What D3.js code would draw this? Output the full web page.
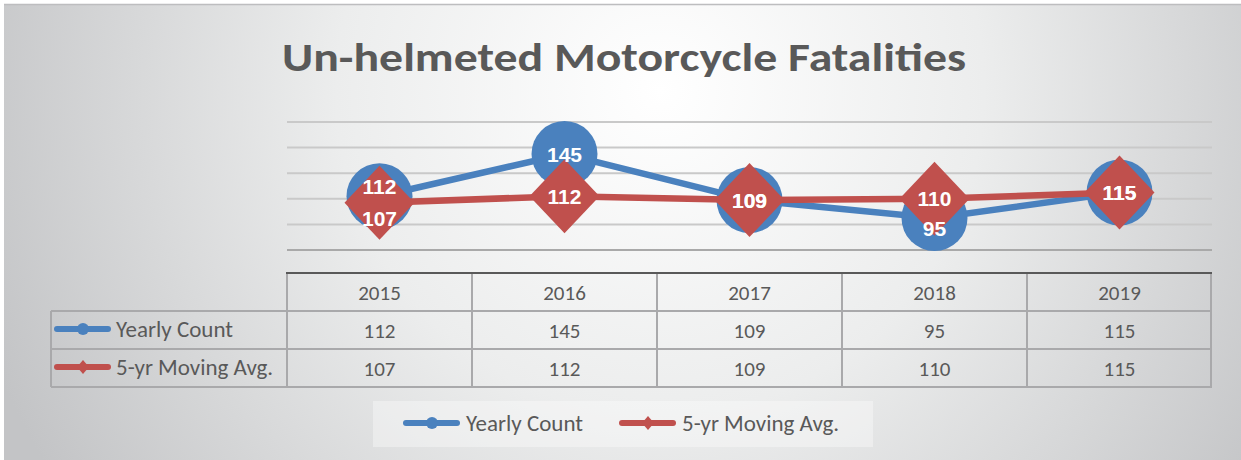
<!DOCTYPE html>
<html><head><meta charset="utf-8">
<script src="https://cdn.jsdelivr.net/npm/d3@7"></script>
<style>body{margin:0;background:#fff}svg{display:block}</style>
</head><body>
<script>
const years = ["2015","2016","2017","2018","2019"];
const yearlyCount = [112,145,109,95,115];
const movingAvg = [107,112,109,110,115];
const seriesNames = ["Yearly Count","5-yr Moving Avg."];
const gridTicks = [70,90,110,130,150,170];
const yearlyLabelDy = [-10,0,0,10,0];
const avgLabelDy = [16,0,0,0,0];

const W=1241,H=460;
const svg=d3.select("body").append("svg").attr("width",W).attr("height",H);
const defs=svg.append("defs");
const rg=defs.append("radialGradient").attr("id","bg").attr("gradientUnits","userSpaceOnUse")
  .attr("cx",660).attr("cy",90).attr("r",720);
rg.append("stop").attr("offset",0).attr("stop-color","#ffffff");
rg.append("stop").attr("offset",0.45).attr("stop-color","#eceded");
rg.append("stop").attr("offset",1).attr("stop-color","#c3c4c6");
svg.append("rect").attr("x",4).attr("y",4).attr("width",W-4).attr("height",H-4).attr("fill","url(#bg)");
svg.append("line").attr("x1",4).attr("x2",W).attr("y1",4.5).attr("y2",4.5).attr("stroke","#bdbdbf").attr("stroke-width",1.5);

const blue="#4a81be", red="#c0504d", txt="#595959";
const font="Carlito, Calibri, Lato, 'Open Sans', sans-serif";

svg.append("text").attr("x",624).attr("y",71).attr("text-anchor","middle")
  .attr("font-family",font).attr("font-weight","bold").attr("font-size",41)
  .attr("fill",txt).attr("textLength",684).attr("lengthAdjust","spacingAndGlyphs")
  .text("Un-helmeted Motorcycle Fatalities");

const x=d3.scaleBand().domain(years).range([287,1212]);
const y=d3.scaleLinear().domain([70,170]).range([250,122]);

// gridlines
svg.append("g").selectAll("line").data(gridTicks).join("line")
  .attr("x1",287).attr("x2",1212).attr("y1",d=>y(d)).attr("y2",d=>y(d))
  .attr("stroke",d=>d===70?"#a9a9a9":"#c9c9c9").attr("stroke-width",2);

// table
const tTop=273;
const tg=svg.append("g");
const lineC="#a9a9ab";
x.domain().forEach(d=>{
  tg.append("line").attr("x1",x(d)).attr("x2",x(d)).attr("y1",tTop).attr("y2",387).attr("stroke",lineC).attr("stroke-width",2);
});
tg.append("line").attr("x1",1211).attr("x2",1211).attr("y1",tTop).attr("y2",387).attr("stroke",lineC).attr("stroke-width",2);
[311,349,387].forEach(yy=>{
  tg.append("line").attr("x1",51).attr("x2",1212).attr("y1",yy).attr("y2",yy).attr("stroke",lineC).attr("stroke-width",2);
});
tg.append("line").attr("x1",51).attr("x2",51).attr("y1",311).attr("y2",387).attr("stroke",lineC).attr("stroke-width",2);
tg.append("line").attr("x1",286).attr("x2",1212).attr("y1",tTop).attr("y2",tTop).attr("stroke","#595959").attr("stroke-width",2);

const cx=d=>x(d)+x.bandwidth()/2;
tg.selectAll("text.h").data(years).join("text").attr("class","h")
  .attr("x",cx).attr("y",300).attr("text-anchor","middle").attr("font-family",font).attr("font-size",21).attr("fill",txt).text(d=>d);
tg.selectAll("text.r1").data(yearlyCount).join("text").attr("class","r1")
  .attr("x",(d,i)=>cx(years[i])).attr("y",338).attr("text-anchor","middle").attr("font-family",font).attr("font-size",21).attr("fill",txt).text(d=>d);
tg.selectAll("text.r2").data(movingAvg).join("text").attr("class","r2")
  .attr("x",(d,i)=>cx(years[i])).attr("y",376).attr("text-anchor","middle").attr("font-family",font).attr("font-size",21).attr("fill",txt).text(d=>d);

function legendKey(g,x0,yy,color,shape){
  g.append("line").attr("x1",x0+3).attr("x2",x0+54).attr("y1",yy).attr("y2",yy).attr("stroke",color).attr("stroke-width",6).attr("stroke-linecap","round");
  if(shape==="circle") g.append("circle").attr("cx",x0+29).attr("cy",yy).attr("r",6).attr("fill",color);
  else g.append("path").attr("d",`M${x0+29},${yy-7}L${x0+35},${yy}L${x0+29},${yy+7}L${x0+23},${yy}Z`).attr("fill",color);
}
legendKey(tg,54,329,blue,"circle");
legendKey(tg,54,367,red,"diamond");
tg.append("text").attr("x",116).attr("y",337).attr("font-family",font).attr("font-size",23).attr("fill",txt).text(seriesNames[0]);
tg.append("text").attr("x",116).attr("y",375).attr("font-family",font).attr("font-size",23).attr("fill",txt).text(seriesNames[1]);

// lines & markers
const line=d3.line().x((d,i)=>cx(years[i])).y(d=>y(d));
svg.append("path").datum(yearlyCount).attr("d",line).attr("fill","none").attr("stroke",blue).attr("stroke-width",6.5);
svg.append("g").selectAll("circle").data(yearlyCount).join("circle")
  .attr("cx",(d,i)=>cx(years[i])).attr("cy",d=>y(d)).attr("r",33).attr("fill",blue);
svg.append("path").datum(movingAvg).attr("d",line).attr("fill","none").attr("stroke",red).attr("stroke-width",6.5);
svg.append("g").selectAll("path").data(movingAvg).join("path")
  .attr("d",(d,i)=>{const px=cx(years[i]),py=y(d);return `M${px},${py-37}L${px+35},${py}L${px},${py+37}L${px-35},${py}Z`;})
  .attr("fill",red);

const lf="Arial, 'Liberation Sans', sans-serif";
svg.append("g").selectAll("text").data(yearlyCount).join("text")
  .attr("x",(d,i)=>cx(years[i])).attr("y",(d,i)=>y(d)+yearlyLabelDy[i]).attr("dy","0.36em")
  .attr("text-anchor","middle").attr("font-family",lf).attr("font-weight","bold").attr("font-size",21).attr("fill","#fff").text(d=>d);
svg.append("g").selectAll("text").data(movingAvg).join("text")
  .attr("x",(d,i)=>cx(years[i])).attr("y",(d,i)=>y(d)+avgLabelDy[i]).attr("dy","0.36em")
  .attr("text-anchor","middle").attr("font-family",lf).attr("font-weight","bold").attr("font-size",21).attr("fill","#fff").text(d=>d);

// bottom legend
const lg=svg.append("g");
lg.append("rect").attr("x",373).attr("y",401).attr("width",500).attr("height",46).attr("fill","#ffffff").attr("fill-opacity",0.35);
legendKey(lg,403,423,blue,"circle");
legendKey(lg,619,423,red,"diamond");
lg.append("text").attr("x",466).attr("y",431).attr("font-family",font).attr("font-size",23).attr("fill",txt).text(seriesNames[0]);
lg.append("text").attr("x",682).attr("y",431).attr("font-family",font).attr("font-size",23).attr("fill",txt).text(seriesNames[1]);
</script>
</body></html>
